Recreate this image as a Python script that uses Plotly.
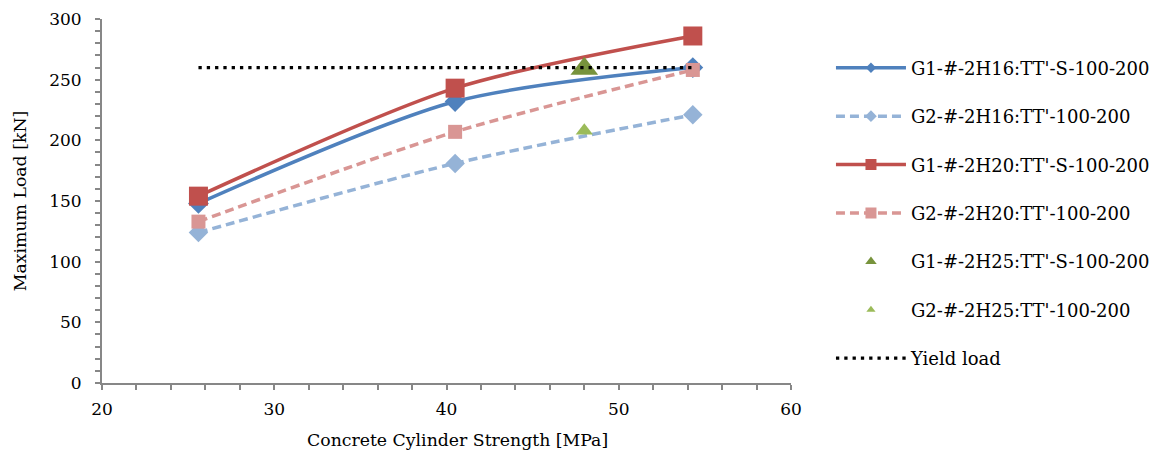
import plotly.graph_objects as go

# Data
x_g16 = [25.6, 40.5, 54.3]
g1_2h16 = [148, 232, 260]
g2_2h16 = [124, 181, 221]
x_g20 = [25.6, 40.5, 54.3]
g1_2h20 = [154, 243, 286]
g2_2h20 = [133, 207, 258]
x_g25 = [48.0]
g1_2h25 = [259]
g2_2h25 = [208]
x_yield = [25.6, 54.3]
yield_load = [260, 260]

names = ["G1-#-2H16:TT'-S-100-200", "G2-#-2H16:TT'-100-200",
         "G1-#-2H20:TT'-S-100-200", "G2-#-2H20:TT'-100-200",
         "G1-#-2H25:TT'-S-100-200", "G2-#-2H25:TT'-100-200",
         "Yield load"]
x_title = "Concrete Cylinder Strength [MPa]"
y_title = "Maximum Load [kN]"

FONT = "DejaVu Serif"
SMOOTH = 0.8

styles = [
    dict(mode="lines+markers", line=dict(color="#4F81BD", width=3.5, shape="spline", smoothing=SMOOTH),
         marker=dict(symbol="diamond", size=16, color="#4F81BD"), lsize=8),
    dict(mode="lines+markers", line=dict(color="#95B3D7", width=3.5, dash="9px,5px", shape="spline", smoothing=SMOOTH),
         marker=dict(symbol="diamond", size=15, color="#95B3D7"), lsize=9),
    dict(mode="lines+markers", line=dict(color="#C0504D", width=3.5, shape="spline", smoothing=SMOOTH),
         marker=dict(symbol="square", size=19, color="#C0504D"), lsize=11),
    dict(mode="lines+markers", line=dict(color="#D99694", width=3.5, dash="9px,5px", shape="spline", smoothing=SMOOTH),
         marker=dict(symbol="square", size=14, color="#D99694"), lsize=11),
    dict(mode="markers", marker=dict(symbol="triangle-up", size=24, color="#77933C"), lsize=10),
    dict(mode="markers", marker=dict(symbol="triangle-up", size=15, color="#9BBB59"), lsize=8),
    dict(mode="lines", line=dict(color="black", width=3.3, dash="3.3px,5px"), lsize=0),
]
xs = [x_g16, x_g16, x_g20, x_g20, x_g25, x_g25, x_yield]
ys = [g1_2h16, g2_2h16, g1_2h20, g2_2h20, g1_2h25, g2_2h25, yield_load]

fig = go.Figure()
# data traces
for i in range(len(names)):
    st = dict(styles[i])
    st.pop("lsize")
    fig.add_trace(go.Scatter(x=xs[i], y=ys[i], name=names[i], showlegend=False, **st))
# legend entries (smaller marker sizes as in the reference legend)
for i in range(len(names)):
    st = dict(styles[i])
    lsize = st.pop("lsize")
    if "marker" in st:
        st["marker"] = dict(st["marker"], size=lsize)
    fig.add_trace(go.Scatter(x=[None], y=[None], name=names[i], legendgroup=f"g{i}",
                             showlegend=True, **st))

tickfont = dict(family=FONT, size=17, color="black")
axis_common = dict(showline=True, linecolor="#878787", linewidth=2,
                   ticks="outside", tickcolor="#878787", ticklen=5, tickwidth=2,
                   showgrid=False, zeroline=False, automargin=False,
                   tickfont=tickfont)

fig.update_xaxes(range=[20, 60], tick0=20, dtick=10, ticklabelstandoff=5,
                 minor=dict(dtick=2, ticks="outside", ticklen=5, tickcolor="#878787", tickwidth=2),
                 **axis_common)
fig.update_yaxes(range=[0, 300], tick0=0, dtick=50, ticklabelstandoff=10,
                 minor=dict(dtick=10, ticks="outside", ticklen=5, tickcolor="#878787", tickwidth=2),
                 title=dict(text=y_title,
                            font=dict(family=FONT, size=17.3, color="black"), standoff=18),
                 **axis_common)

fig.add_annotation(text=x_title, xref="paper", yref="paper", x=0.5155, y=0,
                   xanchor="center", yanchor="middle", yshift=-57, showarrow=False,
                   font=dict(family=FONT, size=17.3, color="black"))

# the page body adds an 8px offset; margins compensate for it
fig.update_layout(
    width=1163, height=454,
    margin=dict(l=94, r=380, t=11, b=79),
    plot_bgcolor="white", paper_bgcolor="white",
    legend=dict(x=1.058, y=0.916, xanchor="left", yanchor="top",
                font=dict(family=FONT, size=18, color="black"),
                tracegroupgap=22, itemwidth=70, itemsizing="trace",
                bgcolor="rgba(0,0,0,0)"),
)

fig.write_html("out.html")
